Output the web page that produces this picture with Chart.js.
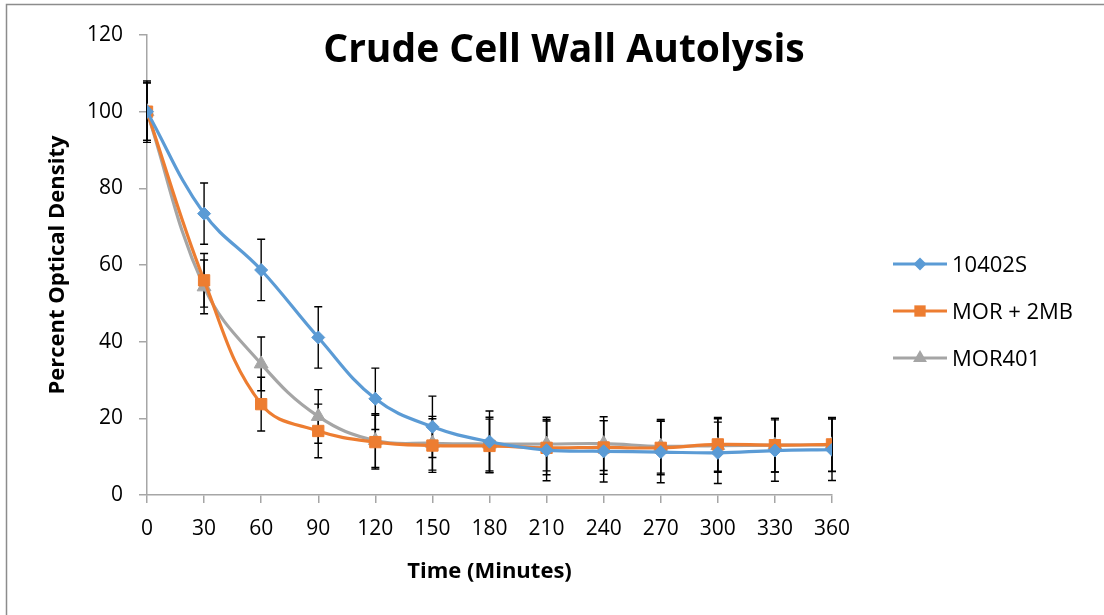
<!DOCTYPE html>
<html><head><meta charset="utf-8">
<script src="https://cdn.jsdelivr.net/npm/chart.js@4/dist/chart.umd.min.js"></script>
<style>html,body{margin:0;padding:0;background:#fff;}#wrap{width:1104px;height:615px;}</style>
</head><body><div id="wrap"><canvas id="c" width="1104" height="615"></canvas></div>
<script>
// ---- data ----
const timePoints = [0, 30, 60, 90, 120, 150, 180, 210, 240, 270, 300, 330, 360];
const xTickValues = [0, 30, 60, 90, 120, 150, 180, 210, 240, 270, 300, 330, 360];
const yTickValues = [0, 20, 40, 60, 80, 100, 120];
const seriesNames = ['10402S', 'MOR + 2MB', 'MOR401'];
const values10402S = [100, 73.4, 58.7, 41.1, 25.1, 17.8, 13.9, 11.7, 11.4, 11.2, 11.0, 11.6, 11.8];
const valuesMOR2MB = [100, 56.0, 23.7, 16.7, 13.8, 12.9, 12.8, 12.3, 12.4, 12.3, 13.2, 13.0, 13.2];
const valuesMOR401 = [100, 54.3, 34.2, 20.5, 14.2, 13.5, 13.3, 13.3, 13.4, 12.7, 12.9, 13.0, 13.1];
const err10402S = [8, 8, 8, 8, 8, 8, 8, 8, 8, 8, 8, 8, 8];
const errMOR2MB = [7.5, 7, 7, 7, 7, 7, 7, 7, 7, 7, 7, 7, 7];
const errMOR401 = [7.5, 7, 7, 7, 7, 7, 7, 7, 7, 7, 7, 7, 7];

const colors = ['#5B9BD5', '#ED7D31', '#A5A5A5'];
const markerStyles = ['rectRot', 'rect', 'triangle'];
const markerRadius = [6.5, 8, 8];
const allValues = [values10402S, valuesMOR2MB, valuesMOR401];
const allErrors = [err10402S, errMOR2MB, errMOR401];
const FONT = '"Open Sans"';

const datasets = seriesNames.map((name, i) => ({
  label: name,
  data: timePoints.map((t, j) => ({x: t, y: allValues[i][j]})),
  errors: allErrors[i],
  borderColor: colors[i],
  backgroundColor: colors[i],
  pointBackgroundColor: colors[i],
  pointBorderColor: colors[i],
  pointBorderWidth: 1,
  borderWidth: 3.2,
  pointStyle: markerStyles[i],
  pointRadius: markerRadius[i],
  tension: 0.4,
  fill: false
}));

const errorBarPlugin = {
  id: 'errorBars',
  beforeDatasetsDraw(chart) {
    const {ctx, scales: {x, y}} = chart;
    ctx.save();
    ctx.strokeStyle = '#000';
    ctx.lineWidth = 1.4;
    chart.data.datasets.forEach(ds => {
      ds.data.forEach((p, j) => {
        const e = ds.errors[j];
        const px = x.getPixelForValue(p.x);
        const yt = y.getPixelForValue(p.y + e);
        const yb = y.getPixelForValue(p.y - e);
        ctx.beginPath();
        ctx.moveTo(px, yt); ctx.lineTo(px, yb);
        ctx.moveTo(px - 4, yt); ctx.lineTo(px + 4, yt);
        ctx.moveTo(px - 4, yb); ctx.lineTo(px + 4, yb);
        ctx.stroke();
      });
    });
    ctx.restore();
  }
};

function drawMarker(ctx, style, cx, cy, r) {
  ctx.beginPath();
  if (style === 'rectRot') {
    ctx.moveTo(cx, cy - r); ctx.lineTo(cx + r, cy); ctx.lineTo(cx, cy + r); ctx.lineTo(cx - r, cy);
  } else if (style === 'rect') {
    const s = r * Math.SQRT1_2;
    ctx.rect(cx - s, cy - s, 2 * s, 2 * s);
  } else {
    const w = r * Math.sqrt(3) / 2;
    ctx.moveTo(cx, cy - r); ctx.lineTo(cx + w, cy + r / 2); ctx.lineTo(cx - w, cy + r / 2);
  }
  ctx.closePath();
  ctx.fill();
}

const decorPlugin = {
  id: 'decor',
  beforeDraw(chart) {
    const ctx = chart.ctx;
    ctx.save();
    ctx.fillStyle = '#fff';
    ctx.fillRect(0, 0, chart.width, chart.height);
    ctx.strokeStyle = '#8c8c8c';
    ctx.lineWidth = 1.5;
    ctx.beginPath();
    ctx.moveTo(6.5, chart.height); ctx.lineTo(6.5, 4.5); ctx.lineTo(chart.width, 4.5);
    ctx.stroke();
    ctx.restore();
  },
  afterDraw(chart) {
    const ctx = chart.ctx;
    ctx.save();
    // title
    ctx.fillStyle = '#000';
    ctx.font = 'bold 39px ' + FONT;
    ctx.textAlign = 'center';
    ctx.textBaseline = 'alphabetic';
    ctx.fillText('Crude Cell Wall Autolysis', 564, 62);
    // legend
    const lx = 893, lw = 54, rowY = [264, 311, 358];
    ctx.font = '22px ' + FONT;
    ctx.textAlign = 'left';
    ctx.textBaseline = 'alphabetic';
    chart.data.datasets.forEach((ds, i) => {
      const yy = rowY[i];
      ctx.strokeStyle = ds.borderColor;
      ctx.lineWidth = 3.2;
      ctx.beginPath(); ctx.moveTo(lx, yy); ctx.lineTo(lx + lw, yy); ctx.stroke();
      ctx.fillStyle = ds.borderColor;
      drawMarker(ctx, ds.pointStyle, lx + lw / 2, yy, ds.pointRadius);
      ctx.fillStyle = '#000';
      ctx.fillText(ds.label, lx + lw + 5, yy + 8);
    });
    ctx.restore();
  }
};

new Chart(document.getElementById('c'), {
  type: 'line',
  data: {datasets},
  plugins: [errorBarPlugin, decorPlugin],
  options: {
    responsive: false,
    animation: false,
    layout: {padding: {top: 35, right: 272, left: 0, bottom: 0}},
    plugins: {legend: {display: false}, title: {display: false}, tooltip: {enabled: false}},
    scales: {
      x: {
        type: 'linear', min: 0, max: 360,
        afterBuildTicks: s => { s.ticks = xTickValues.map(v => ({value: v})); },
        afterFit: s => { s.height = 120; },
        grid: {drawOnChartArea: false, drawTicks: true, tickLength: 8, color: '#a6a6a6', lineWidth: 1.5},
        border: {color: '#a6a6a6', width: 1.5},
        ticks: {font: {family: FONT, size: 21}, color: '#000', padding: 13, maxRotation: 0, autoSkip: false},
        title: {display: true, text: 'Time (Minutes)', color: '#000', font: {family: FONT, size: 22, weight: 'bold'}, padding: {top: 0, bottom: 30}}
      },
      y: {
        min: 0, max: 120,
        afterBuildTicks: s => { s.ticks = yTickValues.map(v => ({value: v})); },
        afterFit: s => { s.width = 147; },
        grid: {drawOnChartArea: false, drawTicks: true, tickLength: 8, color: '#a6a6a6', lineWidth: 1.5},
        border: {color: '#a6a6a6', width: 1.5},
        ticks: {font: {family: FONT, size: 21}, color: '#000', padding: 16},
        title: {display: true, text: 'Percent Optical Density', color: '#000', font: {family: FONT, size: 22, weight: 'bold'}, padding: {top: 45, bottom: 0}}
      }
    }
  }
});
</script></body></html>
